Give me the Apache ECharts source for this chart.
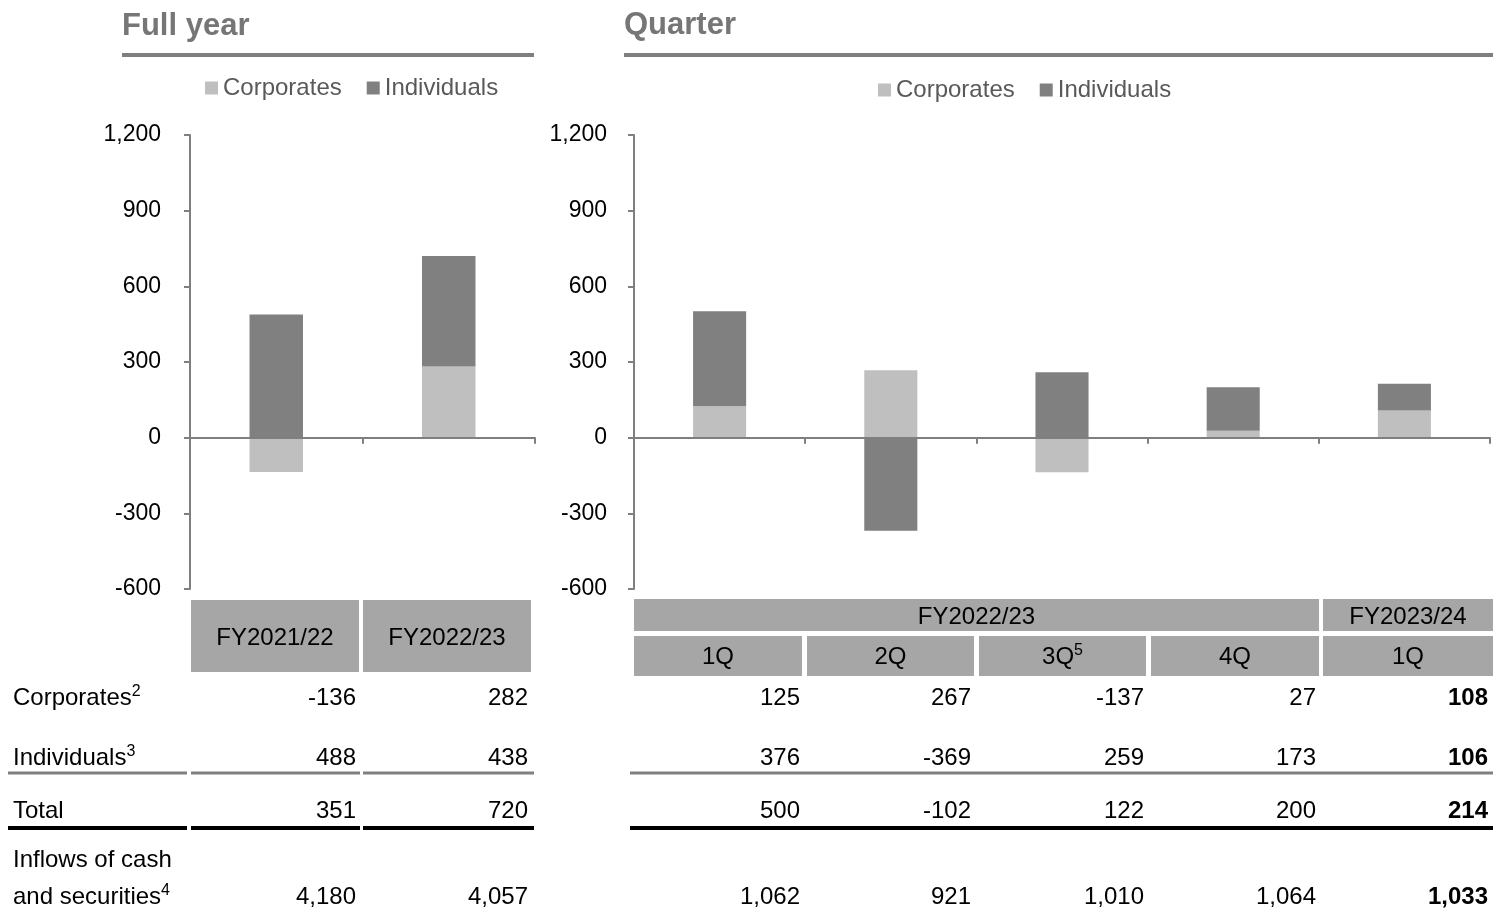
<!DOCTYPE html>
<html><head><meta charset="utf-8">
<script src="https://cdn.jsdelivr.net/npm/echarts@6.0.0/dist/echarts.min.js"></script>
<style>html,body{margin:0;padding:0;background:#fff}#c{width:1493px;height:910px}</style>
</head><body><div id="c"></div>
<script>
// ---------------- data ----------------
const fyCategories = ['FY2021/22', 'FY2022/23'];
const fyCorporates = [-136, 282];
const fyIndividuals = [488, 438];
const fyTotal = [351, 720];
const fyInflows = [4180, 4057];

const qFiscalYears = ['FY2022/23', 'FY2023/24'];
const qFiscalSpans = [4, 1];
const qCategories = ['1Q', '2Q', '3Q', '4Q', '1Q'];
const qNotes = ['', '', '5', '', ''];
const qCorporates = [125, 267, -137, 27, 108];
const qIndividuals = [376, -369, 259, 173, 106];
const qTotal = [500, -102, 122, 200, 214];
const qInflows = [1062, 921, 1010, 1064, 1033];

const seriesNames = ['Corporates', 'Individuals'];
const rowLabels = ['Corporates', 'Individuals', 'Total', 'Inflows of cash', 'and securities'];
const rowNotes = ['2', '3', '', '', '4'];
const panelTitles = ['Full year', 'Quarter'];
const yMin = -600, yMax = 1200, yStep = 300;

// ---------------- layout / style ----------------
const FONT = "'Liberation Sans', Arial, Helvetica, sans-serif";
const AXIS = '#7f7f7f';
const C_CORP = '#bfbfbf', C_IND = '#808080';
const HEAD = '#a6a6a6';
const FS = 24;
const fyCells = [[191, 359], [363, 531]];
const qCells = [[634, 802], [807, 974], [979, 1146], [1151, 1319], [1323, 1493]];
const fyValX = [356, 528];
const qValX = [800, 971, 1144, 1316, 1488];
const labelRowsY = [698, 758, 811, 860, 897];
const valueRowsY = [698, 758, 811, 897];
const qBoldIndex = 4;

function fmt(v) { return v.toLocaleString('en-US'); }

function richText(text, note, weight) {
  if (!note) return { text: text };
  return {
    text: '{m|' + text + '}{s|' + note + '}',
    rich: {
      m: { fontSize: FS, fontFamily: FONT, fill: '#000', fontWeight: weight || 'normal', lineHeight: 28 },
      s: { fontSize: 16, fontFamily: FONT, fill: '#000', lineHeight: 17, verticalAlign: 'top' }
    }
  };
}

const g = [];
function txt(x, y, t, opts) {
  opts = opts || {};
  const st = Object.assign({
    fontSize: FS, fontFamily: FONT, fill: '#000', align: 'left', verticalAlign: 'middle'
  }, opts);
  g.push({ type: 'text', x: x, y: y, z: 10, style: st });
}
function rect(x, y, w, h, fill) {
  g.push({ type: 'rect', z: 5, shape: { x: x, y: y, width: w, height: h }, style: { fill: fill } });
}

// titles + underline
txt(122, 26, panelTitles[0], { text: panelTitles[0], fontSize: 31, fontWeight: 'bold', fill: '#767676' });
rect(122, 53, 412, 4, AXIS);
txt(624, 25, panelTitles[1], { text: panelTitles[1], fontSize: 31, fontWeight: 'bold', fill: '#767676' });
rect(624, 53, 869, 4, AXIS);

// full-year header
fyCategories.forEach(function (c, i) {
  const [a, b] = fyCells[i];
  rect(a, 600, b - a, 72, HEAD);
  txt((a + b) / 2, 638, c, { text: c, align: 'center' });
});
// quarter header
let start = 0;
qFiscalYears.forEach(function (fy, k) {
  const a = qCells[start][0], b = qCells[start + qFiscalSpans[k] - 1][1];
  rect(a, 599, b - a, 32, HEAD);
  txt((a + b) / 2, 617, fy, { text: fy, align: 'center' });
  start += qFiscalSpans[k];
});
qCategories.forEach(function (c, i) {
  const [a, b] = qCells[i];
  rect(a, 636, b - a, 40, HEAD);
  txt((a + b) / 2, 657, c, Object.assign({ align: 'center' }, richText(c, qNotes[i])));
});

// row labels
rowLabels.forEach(function (lab, r) {
  txt(13, labelRowsY[r], lab, richText(lab, rowNotes[r]));
});

// values
const fyRows = [fyCorporates, fyIndividuals, fyTotal, fyInflows];
fyRows.forEach(function (row, r) {
  row.forEach(function (v, i) {
    txt(fyValX[i], valueRowsY[r], fmt(v), { text: fmt(v), align: 'right' });
  });
});
const qRows = [qCorporates, qIndividuals, qTotal, qInflows];
qRows.forEach(function (row, r) {
  row.forEach(function (v, i) {
    txt(qValX[i], valueRowsY[r], fmt(v), { text: fmt(v), align: 'right', fontWeight: i === qBoldIndex ? 'bold' : 'normal' });
  });
});

// row separator lines
const leftSegs = [[8, 187], [191, 360], [363, 534]];
leftSegs.forEach(function (s) {
  rect(s[0], 771.5, s[1] - s[0], 3, '#808080');
  rect(s[0], 826, s[1] - s[0], 4, '#000');
});
rect(630, 771.5, 863, 3, '#808080');
rect(630, 826, 863, 4, '#000');

// ---------------- chart ----------------
const chart = echarts.init(document.getElementById('c'), null, { renderer: 'canvas' });

function xAxisCfg(gi, data) {
  return {
    gridIndex: gi, type: 'category', data: data, z: 3,
    axisLine: { show: true, onZero: true, lineStyle: { color: AXIS, width: 2 } },
    axisTick: { show: true, length: 6, lineStyle: { color: AXIS, width: 2 } },
    axisLabel: { show: false }, splitLine: { show: false }
  };
}
function yAxisCfg(gi, margin) {
  return {
    gridIndex: gi, type: 'value', min: yMin, max: yMax, interval: yStep,
    axisLine: { show: true, lineStyle: { color: AXIS, width: 2 } },
    axisTick: { show: true, length: 6, lineStyle: { color: AXIS, width: 2 } },
    splitLine: { show: false },
    axisLabel: { margin: margin, fontSize: 23, color: '#000', fontFamily: FONT, padding: [4, 0, 0, 0], formatter: function (v) { return fmt(v); } }
  };
}
function legendCfg(left, top) {
  return {
    data: seriesNames, left: left, top: top, padding: 0, icon: 'rect',
    itemWidth: 13, itemHeight: 13, itemGap: 25, selectedMode: false,
    textStyle: { fontSize: FS, color: '#595959', fontFamily: FONT }
  };
}
function bar(name, xi, stack, data, color) {
  return {
    name: name, type: 'bar', xAxisIndex: xi, yAxisIndex: xi, stack: stack,
    data: data, barWidth: '31%', itemStyle: { color: color }, z: 2
  };
}

const qAxisKeys = qCategories.map(function (c, i) { return c + '#' + i; });

chart.setOption({
  animation: false,
  backgroundColor: '#fff',
  textStyle: { fontFamily: FONT },
  legend: [legendCfg(205, 76), legendCfg(878, 78)],
  grid: [
    { left: 190, top: 135, width: 345, height: 454, outerBoundsMode: 'none', containLabel: false },
    { left: 634, top: 135, width: 856, height: 454, outerBoundsMode: 'none', containLabel: false }
  ],
  xAxis: [xAxisCfg(0, fyCategories), xAxisCfg(1, qAxisKeys)],
  yAxis: [yAxisCfg(0, 29), yAxisCfg(1, 27)],
  series: [
    bar(seriesNames[0], 0, 'fy', fyCorporates, C_CORP),
    bar(seriesNames[1], 0, 'fy', fyIndividuals, C_IND),
    bar(seriesNames[0], 1, 'q', qCorporates, C_CORP),
    bar(seriesNames[1], 1, 'q', qIndividuals, C_IND)
  ],
  graphic: g
});
</script></body></html>
